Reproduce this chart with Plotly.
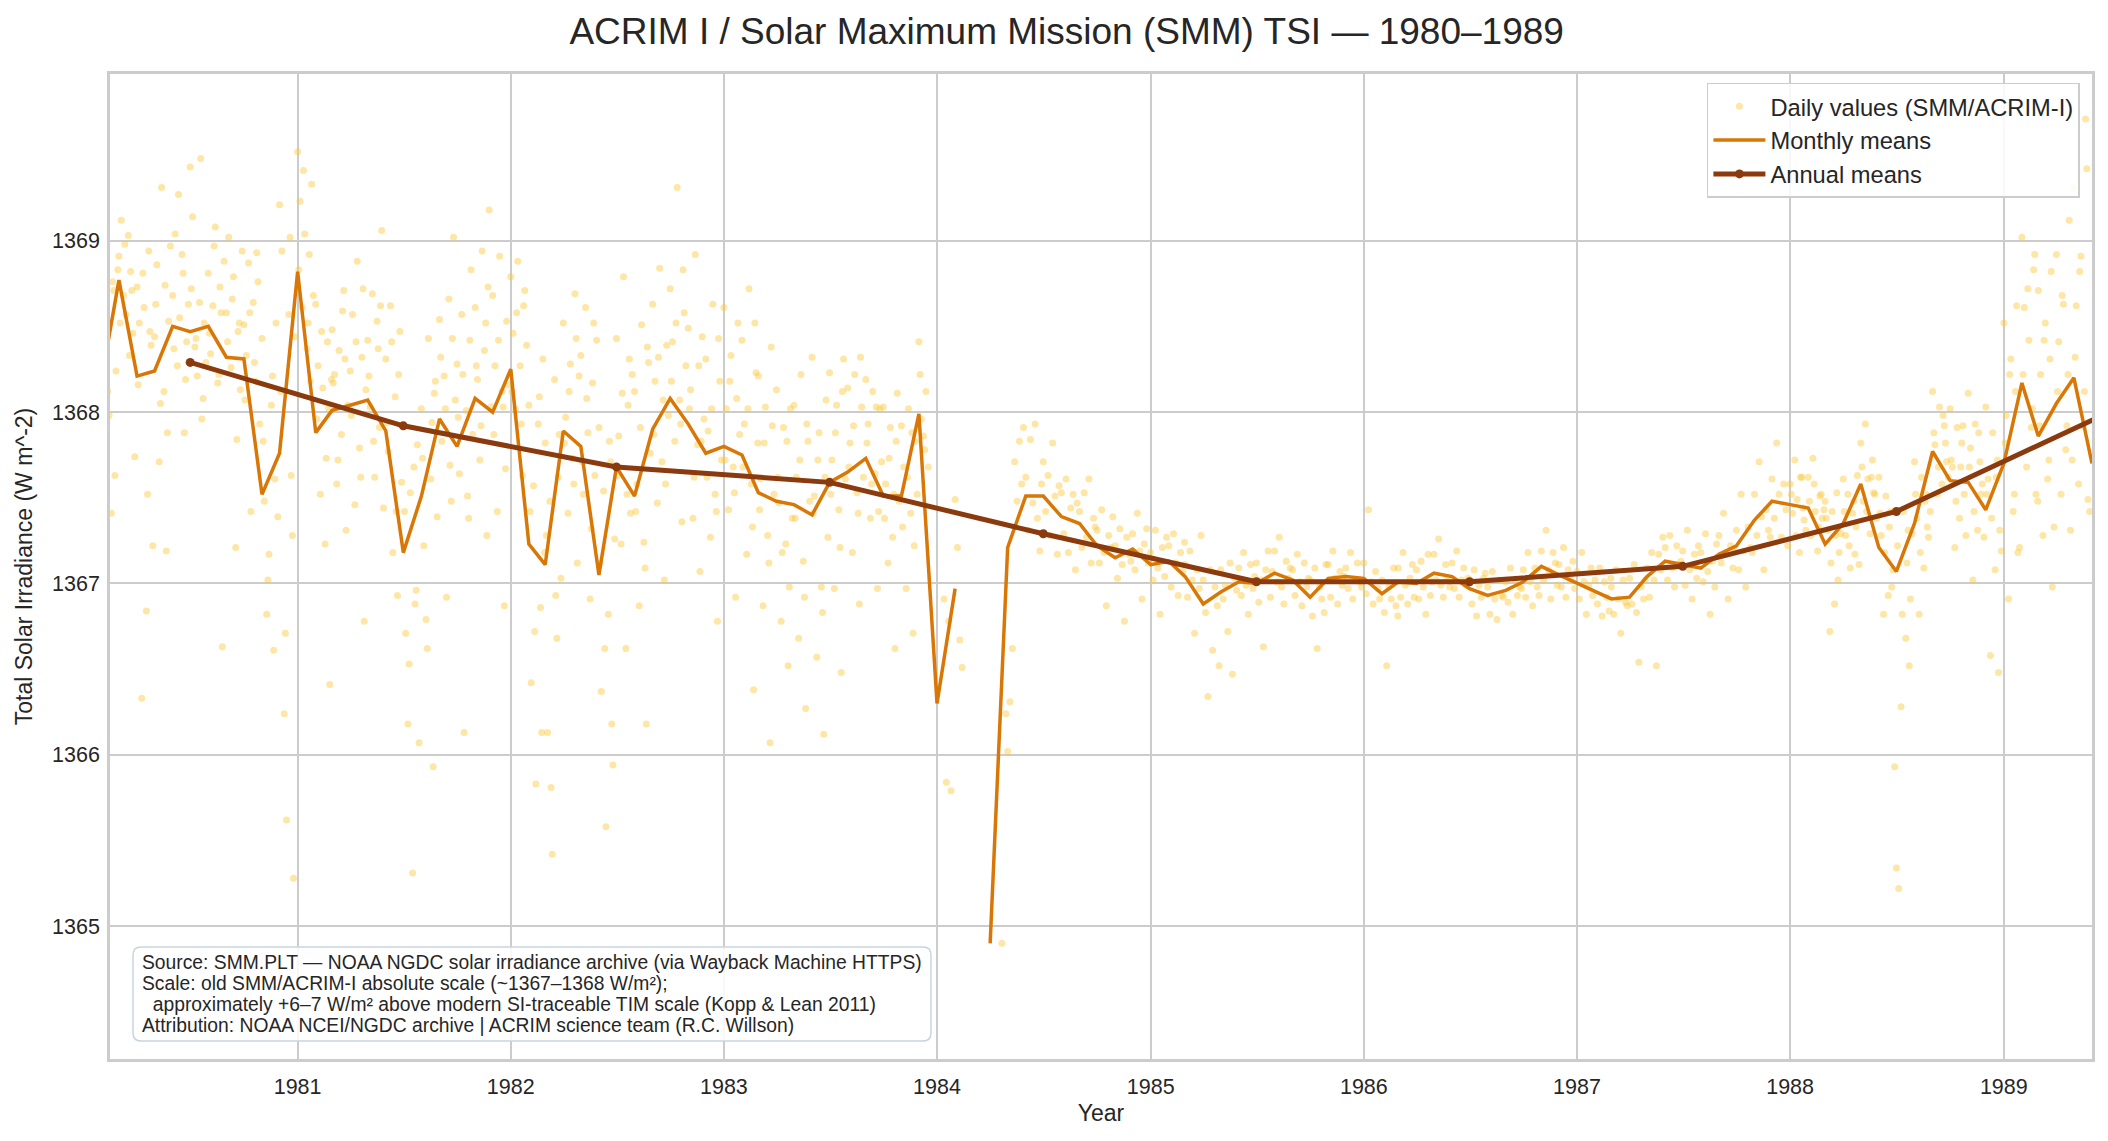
import plotly.graph_objects as go

# ---------------- data ----------------
years = [1980, 1981, 1982, 1983, 1984, 1985, 1986, 1987, 1988, 1989]
sample_days = [1, 5, 9, 13, 17, 21, 25, 28]   # days of month of the daily samples
extra_days = [3, 11, 19, 23]                  # extra samples in the noisier years

daily_1980 = [
    None,
    [1368.62, 1368.93, 1368.35, 1367.98, 1367.41, 1368.71, 1368.24, 1368.83],
    [1368.91, 1369.12, 1368.68, 1368.57, 1369.03, 1368.82, 1368.46, 1367.74],
    [1368.73, 1368.52, 1366.33, 1368.61, 1366.84, 1368.94, 1368.39, 1367.22],
    [1368.44, 1368.86, 1367.71, 1369.31, 1368.12, 1367.19, 1368.53, 1368.97],
    [1368.68, 1369.04, 1368.27, 1368.55, 1368.92, 1367.88, 1368.41, 1368.63],
    [1369.43, 1369.14, 1368.38, 1368.21, 1368.64, 1367.96, 1368.52, 1368.29],
    [1368.81, 1368.34, 1368.62, 1369.08, 1368.17, 1368.73, 1366.63, 1368.88],
    [1368.58, 1369.02, 1368.26, 1368.79, 1367.21, 1368.47, 1368.13, 1368.94],
    [1368.51, 1368.33, 1368.87, 1367.42, 1368.64, 1368.18, 1368.76, 1367.93],
    [1368.43, 1367.48, 1366.82, 1367.17, 1368.04, 1366.61, 1368.52, 1367.39],
    [1369.21, 1368.94, 1366.24, 1365.62, 1368.57, 1367.63, 1365.28, 1368.44],
]
daily_1981 = [
    [1369.52, 1369.23, 1368.61, 1369.04, 1368.37, 1368.92, 1369.33, 1368.68],
    [1368.63, 1368.27, 1367.52, 1368.14, 1367.23, 1368.41, 1366.41, 1368.19],
    [1368.48, 1368.22, 1367.58, 1368.36, 1367.87, 1368.71, 1367.31, 1368.04],
    [1368.24, 1368.57, 1367.46, 1368.88, 1367.79, 1368.32, 1366.78, 1368.13],
    [1368.42, 1368.03, 1368.69, 1367.62, 1368.53, 1367.91, 1369.06, 1367.44],
    [1368.31, 1367.77, 1368.62, 1367.18, 1368.09, 1366.93, 1368.47, 1367.59],
    [1367.92, 1366.71, 1366.18, 1367.53, 1365.31, 1366.88, 1367.81, 1366.07],
    [1368.02, 1367.22, 1366.79, 1368.43, 1367.61, 1365.93, 1368.18, 1367.39],
    [1368.54, 1367.83, 1368.21, 1366.92, 1368.66, 1367.48, 1369.02, 1368.07],
    [1368.28, 1367.64, 1368.57, 1366.13, 1368.01, 1367.38, 1368.83, 1367.87],
    [1368.61, 1368.19, 1367.72, 1368.94, 1368.36, 1367.28, 1369.18, 1368.03],
    [1368.68, 1368.27, 1367.42, 1368.91, 1368.12, 1366.87, 1368.53, 1368.16],
]
daily_1982 = [
    [1368.79, 1368.46, 1368.02, 1368.88, 1368.27, 1367.63, 1368.71, 1368.39],
    [1368.04, 1366.42, 1367.57, 1365.83, 1367.93, 1366.86, 1368.31, 1367.18],
    [1367.82, 1366.13, 1367.48, 1365.42, 1368.19, 1366.68, 1367.87, 1367.03],
    [1368.52, 1367.97, 1367.41, 1368.28, 1367.73, 1368.69, 1367.12, 1368.21],
    [1368.33, 1367.52, 1368.61, 1367.88, 1366.91, 1368.17, 1367.63, 1368.42],
    [1367.91, 1366.37, 1367.54, 1365.58, 1366.82, 1367.71, 1365.94, 1367.26],
    [1368.43, 1367.86, 1367.23, 1368.79, 1366.62, 1368.04, 1367.41, 1368.22],
    [1368.12, 1367.58, 1366.87, 1368.51, 1367.24, 1366.18, 1368.29, 1367.76],
    [1368.63, 1368.18, 1367.47, 1368.84, 1367.71, 1367.02, 1368.39, 1367.98],
    [1368.72, 1368.41, 1367.83, 1369.31, 1368.07, 1367.36, 1368.58, 1368.27],
    [1368.49, 1368.13, 1367.38, 1368.92, 1367.81, 1367.07, 1368.44, 1367.96],
    [1368.31, 1367.89, 1367.27, 1368.63, 1367.52, 1366.78, 1368.18, 1367.72],
]
daily_1983 = [
    [1368.61, 1368.02, 1367.43, 1368.33, 1367.68, 1366.92, 1368.52, 1367.87],
    [1368.42, 1367.93, 1367.17, 1368.72, 1367.58, 1366.38, 1368.23, 1367.82],
    [1368.21, 1367.61, 1366.87, 1368.03, 1367.28, 1366.07, 1367.92, 1367.52],
    [1368.13, 1367.47, 1366.78, 1367.91, 1367.23, 1366.52, 1368.02, 1367.38],
    [1368.04, 1367.62, 1366.68, 1368.22, 1367.13, 1366.27, 1367.83, 1367.48],
    [1368.32, 1367.51, 1366.57, 1367.88, 1366.98, 1366.12, 1368.07, 1367.27],
    [1368.23, 1367.72, 1366.97, 1368.04, 1367.43, 1366.48, 1368.31, 1367.61],
    [1368.14, 1367.82, 1367.18, 1368.22, 1367.53, 1366.88, 1368.03, 1367.62],
    [1368.19, 1367.93, 1367.38, 1368.12, 1367.64, 1366.97, 1368.02, 1367.71],
    [1368.03, 1367.58, 1367.12, 1367.91, 1367.27, 1366.62, 1368.11, 1367.48],
    [1367.92, 1367.68, 1366.97, 1368.02, 1367.41, 1366.71, 1367.83, 1367.52],
    [1368.41, 1367.96, 1367.86, 1368.12, 1367.68, None, None, None],
]
daily_1984 = [
    [None, None, None, 1366.91, 1365.84, 1366.78, 1365.79, None],
    [1367.49, 1367.21, 1366.67, 1366.51, None, None, None, None],
    None,
    [None, None, None, None, None, 1364.90, None, 1366.24],
    [1366.02, 1366.31, 1366.62, 1367.71, 1367.48, 1367.83, 1367.58, 1367.91],
    [1367.62, 1367.31, 1367.84, 1367.47, 1367.93, 1367.38, 1367.19, 1367.58],
    [1367.71, 1367.42, 1367.63, 1367.28, 1367.82, 1367.51, 1367.17, 1367.57],
    [1367.53, 1367.29, 1367.61, 1367.18, 1367.44, 1367.52, 1367.08, 1367.47],
    [1367.42, 1367.21, 1367.53, 1367.27, 1367.61, 1367.12, 1367.38, 1367.33],
    [1367.31, 1367.12, 1367.43, 1367.18, 1366.87, 1367.28, 1367.21, 1367.39],
    [1367.22, 1367.03, 1367.32, 1367.11, 1366.78, 1367.27, 1367.17, 1367.13],
    [1367.29, 1367.08, 1367.41, 1367.19, 1366.91, 1367.23, 1367.32, 1367.12],
]
daily_1985 = [
    [1367.18, 1367.02, 1367.31, 1367.09, 1366.82, 1367.21, 1367.04, 1367.27],
    [1367.22, 1366.98, 1367.29, 1367.12, 1366.93, 1367.18, 1367.07, 1367.24],
    [1367.11, 1366.92, 1367.19, 1367.02, 1366.71, 1367.08, 1366.97, 1367.28],
    [1367.02, 1366.83, 1366.34, 1367.08, 1366.61, 1366.98, 1366.87, 1366.52],
    [1367.08, 1366.91, 1366.99, 1366.72, 1367.12, 1366.47, 1367.03, 1366.96],
    [1367.09, 1366.93, 1367.18, 1366.99, 1366.82, 1367.11, 1366.97, 1367.04],
    [1367.12, 1366.89, 1367.02, 1366.63, 1367.08, 1367.19, 1366.92, 1367.07],
    [1367.19, 1367.01, 1367.27, 1366.98, 1366.88, 1367.13, 1367.03, 1367.09],
    [1367.08, 1366.93, 1367.17, 1367.01, 1366.87, 1367.12, 1366.98, 1367.03],
    [1367.02, 1366.81, 1367.09, 1366.62, 1366.98, 1366.91, 1366.83, 1367.11],
    [1367.11, 1366.92, 1367.19, 1367.03, 1366.88, 1367.07, 1366.99, 1367.04],
    [1367.09, 1366.97, 1367.18, 1366.91, 1367.02, 1367.12, 1367.01, 1366.98],
]
daily_1986 = [
    [1367.12, 1366.94, 1367.43, 1367.01, 1366.88, 1367.07, 1366.97, 1366.91],
    [1367.02, 1366.83, 1366.52, 1366.98, 1366.91, 1367.09, 1366.87, 1366.81],
    [1367.09, 1366.92, 1367.18, 1366.99, 1366.88, 1367.03, 1367.11, 1366.92],
    [1367.08, 1366.91, 1367.13, 1366.98, 1366.82, 1367.17, 1366.93, 1367.01],
    [1367.17, 1367.02, 1367.26, 1366.99, 1366.92, 1367.11, 1367.03, 1366.98],
    [1367.12, 1366.97, 1367.19, 1366.92, 1367.02, 1367.09, 1366.99, 1367.03],
    [1367.02, 1366.88, 1367.08, 1366.81, 1366.99, 1366.92, 1367.03, 1367.06],
    [1366.98, 1366.82, 1367.07, 1366.91, 1366.79, 1367.02, 1366.93, 1366.92],
    [1367.01, 1366.89, 1367.09, 1366.82, 1367.02, 1366.93, 1366.98, 1366.97],
    [1367.08, 1366.92, 1367.18, 1367.01, 1366.87, 1367.09, 1366.98, 1366.93],
    [1367.19, 1367.02, 1367.31, 1367.08, 1366.91, 1367.18, 1367.12, 1366.99],
    [1367.11, 1366.98, 1367.21, 1366.92, 1367.08, 1367.02, 1367.13, 1366.97],
]
daily_1987 = [
    [1367.07, 1366.91, 1367.18, 1367.01, 1366.82, 1366.99, 1367.09, 1366.93],
    [1367.02, 1366.88, 1367.09, 1366.81, 1367.01, 1366.92, 1366.84, 1367.03],
    [1366.98, 1366.82, 1367.08, 1366.91, 1366.71, 1367.02, 1366.89, 1366.87],
    [1367.03, 1366.88, 1367.11, 1366.83, 1366.54, 1366.98, 1366.91, 1367.02],
    [1367.09, 1366.92, 1367.18, 1367.02, 1366.52, 1367.17, 1367.08, 1367.27],
    [1367.21, 1367.02, 1367.28, 1367.09, 1366.98, 1367.22, 1367.11, 1367.13],
    [1367.19, 1366.99, 1367.31, 1367.08, 1366.91, 1367.17, 1367.03, 1367.22],
    [1367.18, 1367.01, 1367.29, 1367.07, 1366.82, 1367.13, 1366.98, 1367.23],
    [1367.28, 1367.12, 1367.41, 1367.18, 1366.91, 1367.22, 1367.09, 1367.19],
    [1367.31, 1367.08, 1367.52, 1367.19, 1366.98, 1367.33, 1367.21, 1367.18],
    [1367.52, 1367.28, 1367.71, 1367.39, 1367.08, 1367.43, 1367.31, 1367.27],
    [1367.61, 1367.38, 1367.82, 1367.52, 1367.27, 1367.58, 1367.43, 1367.22],
]
daily_1988 = [
    [1367.58, 1367.41, 1367.72, 1367.49, 1367.18, 1367.62, 1367.37, 1367.31],
    [1367.62, 1367.28, 1367.73, 1367.42, 1367.19, 1367.51, 1367.38, 1367.43],
    [1367.48, 1367.31, 1366.72, 1367.42, 1366.88, 1367.53, 1367.18, 1367.29],
    [1367.61, 1367.28, 1367.52, 1367.09, 1367.41, 1367.17, 1367.63, 1367.11],
    [1367.82, 1367.48, 1367.93, 1367.61, 1367.29, 1367.72, 1367.52, 1367.38],
    [1367.62, 1367.28, 1366.82, 1367.51, 1366.93, 1367.42, 1367.08, 1365.93],
    [1365.34, 1365.22, 1366.28, 1367.42, 1366.68, 1367.31, 1366.91, 1367.29],
    [1367.71, 1367.38, 1366.82, 1367.62, 1367.09, 1367.52, 1367.27, 1367.42],
    [1368.12, 1367.81, 1367.52, 1368.03, 1367.58, 1367.92, 1367.71, 1367.62],
    [1368.02, 1367.68, 1367.21, 1367.91, 1367.38, 1367.82, 1367.52, 1367.28],
    [1368.11, 1367.79, 1367.02, 1367.93, 1367.31, 1367.71, 1367.58, 1367.27],
    [1368.03, 1367.61, 1366.58, 1367.88, 1367.08, 1367.72, 1367.31, 1367.19],
]
daily_1989 = [
    [1368.52, 1367.98, 1366.91, 1368.31, 1367.42, 1368.12, 1367.18, 1367.21],
    [1369.02, 1368.61, 1367.68, 1368.42, 1367.91, 1368.83, 1367.52, 1367.48],
    [1368.71, 1368.22, 1367.28, 1368.52, 1367.61, 1368.31, 1366.98, 1367.33],
    [1368.92, 1368.41, 1367.52, 1368.63, 1367.78, 1368.22, 1367.31, 1367.72],
    [1369.31, 1368.62, 1367.58, 1368.91, 1367.92, 1369.71, 1367.49, 1367.42],
    None, None, None, None, None, None, None,
]

extra_1980 = [
    None,
    [1368.45, 1368.12, 1368.76, 1367.63],
    [1368.52, 1368.98, 1368.33, 1368.71],
    [1368.16, 1368.81, 1367.52, 1368.47],
    [1368.63, 1368.05, 1368.74, 1367.88],
    [1368.37, 1369.27, 1368.81, 1368.19],
    [1368.72, 1368.43, 1369.48, 1368.08],
    [1368.46, 1368.97, 1368.22, 1368.58],
    [1368.41, 1368.66, 1367.84, 1368.52],
    [1368.07, 1368.58, 1368.29, 1368.93],
    [1367.83, 1367.02, 1368.21, 1367.61],
    [1368.12, 1366.71, 1369.02, 1367.28],
]
extra_1981 = [
    [1368.83, 1369.41, 1368.52, 1368.18],
    [1367.96, 1368.47, 1367.73, 1368.02],
    [1368.17, 1367.72, 1368.59, 1368.31],
    [1367.98, 1368.41, 1367.62, 1368.72],
    [1368.21, 1367.83, 1368.37, 1368.62],
    [1367.94, 1368.41, 1367.42, 1368.22],
    [1367.42, 1366.53, 1367.68, 1366.96],
    [1367.73, 1366.62, 1367.94, 1368.11],
    [1368.32, 1368.02, 1367.69, 1368.43],
    [1367.97, 1368.22, 1367.51, 1368.42],
    [1368.27, 1367.92, 1368.52, 1368.73],
    [1367.87, 1368.42, 1368.03, 1367.67],
]
extra_1982 = [
    [1368.12, 1368.58, 1367.93, 1368.62],
    [1367.42, 1366.72, 1368.09, 1366.13],
    [1367.28, 1365.81, 1366.93, 1367.62],
    [1367.82, 1368.12, 1367.58, 1368.43],
    [1367.71, 1368.08, 1367.32, 1368.52],
    [1367.12, 1366.62, 1367.83, 1366.18],
    [1367.63, 1368.11, 1367.52, 1368.31],
    [1367.42, 1367.91, 1367.09, 1368.38],
    [1367.87, 1368.32, 1368.07, 1367.58],
    [1368.18, 1368.52, 1367.93, 1368.83],
    [1368.02, 1367.62, 1368.27, 1367.83],
    [1367.62, 1368.02, 1367.42, 1368.43],
]
extra_1983 = [
    [1367.72, 1368.18, 1367.53, 1368.08],
    [1367.68, 1368.02, 1367.33, 1368.52],
    [1367.43, 1367.82, 1367.12, 1368.38],
    [1367.62, 1367.18, 1367.83, 1366.98],
    [1367.38, 1367.72, 1366.92, 1367.93],
    [1367.41, 1367.72, 1366.83, 1367.62],
    [1367.52, 1367.88, 1367.21, 1368.12],
    [1367.68, 1367.92, 1367.41, 1368.32],
    [1367.82, 1367.58, 1368.03, 1367.42],
    [1367.38, 1367.73, 1367.52, 1367.83],
    [1367.33, 1367.62, 1367.88, 1367.22],
    [1368.22, 1367.78, None, None],
]
extra_1988 = [
    [1367.52, 1367.28, 1367.62, 1367.44],
    [1367.48, 1367.58, 1367.33, 1367.52],
    [1367.38, 1367.12, 1367.28, 1367.02],
    [1367.42, 1367.22, 1367.48, 1367.33],
    [1367.68, 1367.42, 1367.62, 1367.53],
    [1367.41, 1367.18, 1367.33, 1366.98],
    [1367.22, 1366.82, 1367.12, 1366.52],
    [1367.52, 1367.18, 1367.48, 1367.33],
    [1367.88, 1367.68, 1367.98, 1367.82],
    [1367.72, 1367.48, 1367.68, 1367.92],
    [1367.68, 1367.42, 1367.88, 1367.52],
    [1367.52, 1367.38, 1367.62, 1366.48],
]
extra_1989 = [
    [1367.82, 1368.22, 1367.52, 1368.62],
    [1368.22, 1368.72, 1368.02, 1368.92],
    [1367.92, 1368.42, 1367.72, 1368.82],
    [1368.12, 1368.68, 1367.92, 1369.12],
    [1368.32, 1368.82, 1368.12, 1369.42],
    None, None, None, None, None, None, None,
]

# monthly means, one value per month (Jan..Dec), plotted at the 1st of the month
monthly_1980 = [None, 1368.21, 1368.77, 1368.21, 1368.24, 1368.50, 1368.47, 1368.50, 1368.32, 1368.31, 1367.52, 1367.76]
monthly_1981 = [1368.82, 1367.88, 1368.01, 1368.04, 1368.07, 1367.89, 1367.18, 1367.51, 1367.96, 1367.80, 1368.08, 1368.00]
monthly_1982 = [1368.25, 1367.23, 1367.11, 1367.89, 1367.80, 1367.05, 1367.68, 1367.51, 1367.90, 1368.08, 1367.93, 1367.76]
monthly_1983 = [1367.80, 1367.75, 1367.53, 1367.48, 1367.46, 1367.40, 1367.59, 1367.65, 1367.73, 1367.51, 1367.51, 1367.99]
monthly_1984 = [1366.30, 1366.97, None, 1364.90, 1367.21, 1367.51, 1367.51, 1367.39, 1367.35, 1367.22, 1367.15, 1367.20]
monthly_1985 = [1367.11, 1367.13, 1367.04, 1366.88, 1366.95, 1367.01, 1367.00, 1367.06, 1367.02, 1366.92, 1367.03, 1367.04]
monthly_1986 = [1367.03, 1366.94, 1367.01, 1367.00, 1367.06, 1367.04, 1366.97, 1366.93, 1366.96, 1367.01, 1367.10, 1367.05]
monthly_1987 = [1367.00, 1366.95, 1366.91, 1366.92, 1367.04, 1367.13, 1367.11, 1367.09, 1367.17, 1367.22, 1367.37, 1367.48]
monthly_1988 = [1367.46, 1367.44, 1367.23, 1367.35, 1367.58, 1367.21, 1367.07, 1367.35, 1367.77, 1367.60, 1367.59, 1367.43]
monthly_1989 = [1367.70, 1368.17, 1367.86, 1368.05, 1368.20, 1367.70, None, None, None, None, None, None]

# annual means, plotted at mid-year (1 July)
annual_means = [1368.29, 1367.92, 1367.68, 1367.59, 1367.29, 1367.01, 1367.01, 1367.10, 1367.42, 1368.00]

title_text = "ACRIM I / Solar Maximum Mission (SMM) TSI — 1980–1989"
note_lines = [
    "Source: SMM.PLT — NOAA NGDC solar irradiance archive (via Wayback Machine HTTPS)",
    "Scale: old SMM/ACRIM-I absolute scale (~1367–1368 W/m²);",
    "\u00a0\u00a0approximately +6–7 W/m² above modern SI-traceable TIM scale (Kopp &amp; Lean 2011)",
    "Attribution: NOAA NCEI/NGDC archive | ACRIM science team (R.C. Willson)",
]

# ---------------- assemble ----------------
daily_sets = [
    (sample_days, years, [daily_1980, daily_1981, daily_1982, daily_1983, daily_1984,
                          daily_1985, daily_1986, daily_1987, daily_1988, daily_1989]),
    (extra_days, [1980, 1981, 1982, 1983, 1988, 1989],
     [extra_1980, extra_1981, extra_1982, extra_1983, extra_1988, extra_1989]),
]
monthly_by_year = [monthly_1980, monthly_1981, monthly_1982, monthly_1983, monthly_1984,
                   monthly_1985, monthly_1986, monthly_1987, monthly_1988, monthly_1989]

dx, dy = [], []
for days, yrs, sets in daily_sets:
    for yr, months in zip(yrs, sets):
        for m, vals in enumerate(months, start=1):
            if vals is None:
                continue
            for d, v in zip(days, vals):
                if v is None:
                    continue
                dx.append(f"{yr}-{m:02d}-{d:02d}")
                dy.append(v)

mx, my = [], []
for yr, vals in zip(years, monthly_by_year):
    for m, v in enumerate(vals, start=1):
        mx.append(f"{yr}-{m:02d}-01")
        my.append(v)

ax = [f"{yr}-07-01" for yr in years]

FONT = "Liberation Sans, Arial, Helvetica, sans-serif"
TXT = "#262626"
GRID = "#cccccc"

W, H = 2108, 1141
ML, MR, MT, MB = 110, 16, 74, 82
PW, PH = W - ML - MR, H - MT - MB


def px_x(p):
    return (p - ML) / PW


def px_y(p):
    return (H - MB - p) / PH


fig = go.Figure()
fig.add_trace(go.Scatter(
    x=dx, y=dy, mode="markers", name="Daily values (SMM/ACRIM-I)",
    marker=dict(size=7, color="rgba(252,200,60,0.45)", line=dict(width=0)),
    legendgroup="a", hoverinfo="skip"))
fig.add_trace(go.Scatter(
    x=mx, y=my, mode="lines", name="Monthly means",
    line=dict(color="#D97706", width=3.5), connectgaps=False, legendgroup="b"))
fig.add_trace(go.Scatter(
    x=ax, y=annual_means, mode="lines+markers", name="Annual means",
    line=dict(color="#8B3A0E", width=5), marker=dict(size=9, color="#8B3A0E"),
    legendgroup="c"))

fig.update_layout(
    width=W, height=H,
    margin=dict(l=ML, r=MR, t=MT, b=MB),
    paper_bgcolor="white", plot_bgcolor="white",
    font=dict(family=FONT, color=TXT),
    title=dict(text=title_text, x=0.506, xref="container", xanchor="center",
               y=1 - 31 / H, yref="container", yanchor="middle",
               font=dict(size=37, color=TXT, family=FONT)),
    legend=dict(x=0.9939, xanchor="right", y=0.991, yanchor="top",
                bgcolor="rgba(255,255,255,0.85)", bordercolor=GRID, borderwidth=1.5,
                font=dict(size=23.7, color=TXT, family=FONT),
                tracegroupgap=8, itemwidth=52, traceorder="normal"),
    showlegend=True,
)
fig.update_xaxes(
    type="date", range=["1980-02-14 16:00", "1989-06-01"],
    tick0="1981-01-01", dtick="M12", tickformat="%Y",
    showgrid=True, gridcolor=GRID, gridwidth=1.6,
    showline=True, linecolor=GRID, linewidth=2.5, mirror=True,
    zeroline=False, ticks="", ticklabelstandoff=6,
    tickfont=dict(size=21.5, color=TXT, family=FONT),
    title=dict(text="Year", font=dict(size=23, color=TXT, family=FONT), standoff=8),
)
fig.update_yaxes(
    range=[1364.225, 1369.973], tick0=1365, dtick=1,
    showgrid=True, gridcolor=GRID, gridwidth=1.6,
    showline=True, linecolor=GRID, linewidth=2.5, mirror=True,
    zeroline=False, ticks="", ticklabelstandoff=3,
    tickfont=dict(size=21.5, color=TXT, family=FONT),
    title=dict(text="Total Solar Irradiance (W m^-2)",
               font=dict(size=23, color=TXT, family=FONT), standoff=14),
)

# rounded note box
bx0, bx1, by0, by1 = px_x(133), px_x(931), px_y(1041), px_y(947)
rx, ry = 8 / PW, 8 / PH
box_path = (f"M {bx0+rx},{by1} L {bx1-rx},{by1} Q {bx1},{by1} {bx1},{by1-ry} "
            f"L {bx1},{by0+ry} Q {bx1},{by0} {bx1-rx},{by0} L {bx0+rx},{by0} "
            f"Q {bx0},{by0} {bx0},{by0+ry} L {bx0},{by1-ry} Q {bx0},{by1} {bx0+rx},{by1} Z")
fig.add_shape(type="path", path=box_path, xref="paper", yref="paper",
              fillcolor="rgba(255,255,255,0.85)", line=dict(color="#c9d3e0", width=1.5),
              layer="above")
for i, line in enumerate(note_lines):
    fig.add_annotation(
        xref="paper", yref="paper", x=px_x(140), y=px_y(962 + 21 * i),
        xanchor="left", yanchor="middle", align="left", showarrow=False,
        text=line, font=dict(size=19.3, color=TXT, family=FONT),
    )

fig.write_html("out.html")
